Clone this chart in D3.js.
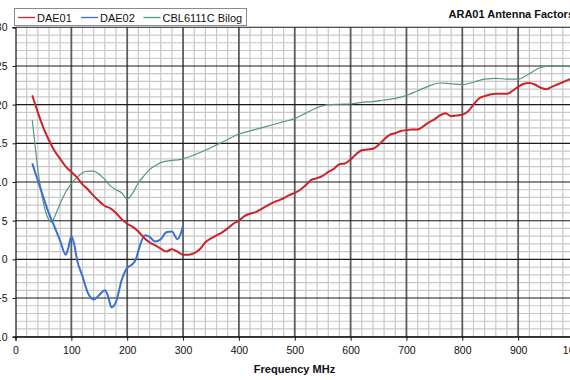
<!DOCTYPE html>
<html><head><meta charset="utf-8">
<script src="https://cdn.jsdelivr.net/npm/d3@7"></script>
<style>html,body{margin:0;padding:0;background:#fff;overflow:hidden}svg{display:block}text{font-family:Arial,"Liberation Sans",sans-serif}</style>
</head><body>
<svg id="c" width="570" height="380"></svg>
<script>
const title = "ARA01 Antenna Factors";
const xTitle = "Frequency MHz";
const seriesNames = ["DAE01", "DAE02", "CBL6111C Bilog"];
const seriesColors = ["#cc2228", "#3b6fd1", "#55997e"];
const xTicks = [0,100,200,300,400,500,600,700,800,900,1000];
const yTicks = [-10,-5,0,5,10,15,20,25,30];

const freqDAE01 = [30,40,50,60,70,80,90,100,110,120,130,140,150,160,170,180,190,200,210,220,230,240,250,260,270,280,290,300,310,320,330,340,350,360,370,380,390,400,410,420,430,440,450,460,470,480,490,500,510,520,530,540,550,560,570,580,590,600,610,620,630,640,650,660,670,680,690,700,710,720,730,740,750,760,770,780,790,800,810,820,830,840,850,860,870,880,890,900,910,920,930,940,950,960,970,980,990,1000];
const valDAE01 = [21.2,19.0,17.0,15.4,14.0,13.0,12.0,11.3,10.6,9.7,9.0,8.2,7.5,6.9,6.6,6.0,5.2,4.6,4.2,3.6,2.8,2.2,1.8,1.4,1.0,1.3,1.0,0.6,0.6,0.8,1.3,2.2,2.7,3.1,3.5,4.0,4.6,5.0,5.6,5.9,6.1,6.5,6.9,7.3,7.6,7.9,8.3,8.6,9.0,9.6,10.3,10.5,10.8,11.3,11.7,12.3,12.4,12.9,13.6,14.1,14.2,14.3,14.8,15.5,16.1,16.3,16.6,16.7,16.8,16.8,17.2,17.7,18.1,18.6,18.9,18.5,18.6,18.7,19.1,20.0,20.8,21.1,21.3,21.4,21.4,21.4,21.8,22.3,22.7,22.8,22.6,22.2,22.0,22.3,22.6,22.9,23.2,23.4];

const freqDAE02 = [30,40,50,60,70,80,90,95,100,105,110,120,130,140,150,160,165,172,180,190,200,210,216,222,232,240,250,260,270,280,290,300];
const valDAE02 = [12.4,10.2,8.0,5.9,4.2,2.4,0.6,1.6,3.0,2.0,0.0,-2.2,-4.4,-5.2,-4.6,-4.0,-4.6,-6.2,-5.5,-2.7,-1.1,-0.6,0.1,1.6,3.1,2.9,2.3,2.6,3.5,3.6,2.6,4.3];

const freqCBL = [30,35,40,45,50,55,60,65,70,80,90,100,110,120,130,140,150,160,170,180,190,200,210,220,230,240,250,260,270,280,290,300,320,340,360,380,400,420,440,460,480,500,520,540,560,580,600,620,640,660,680,700,720,740,760,780,800,820,840,860,880,900,920,940,960,980,1000];
const valCBL = [18.0,14.8,11.6,9.2,7.3,5.9,5.1,4.8,5.5,7.2,8.7,9.8,10.6,11.2,11.4,11.4,11.0,10.3,9.5,9.0,8.6,7.8,8.6,9.9,10.8,11.6,12.1,12.5,12.7,12.8,12.85,13.0,13.5,14.1,14.8,15.5,16.2,16.6,17.0,17.4,17.8,18.2,18.9,19.6,20.0,20.05,20.1,20.3,20.4,20.6,20.8,21.2,21.8,22.4,22.8,22.7,22.6,22.9,23.3,23.4,23.3,23.3,24.0,24.8,25.0,25.0,24.8];

const svg = d3.select("#c");
const x = d3.scaleLinear().domain([0,1000]).range([15.5,574]);
const y = d3.scaleLinear().domain([-10,30]).range([336.7,27.3]);

// minor grid
const g = svg.append("g");
g.selectAll("line.vmin").data(d3.range(0,1001,20).filter(v=>v%100!==0)).join("line")
  .attr("x1",d=>x(d)).attr("x2",d=>x(d)).attr("y1",y(30)).attr("y2",y(-10))
  .attr("stroke","#c8c8c8").attr("stroke-width",1.2);
g.selectAll("line.hmin").data(d3.range(-10,31,1).filter(v=>v%5!==0)).join("line")
  .attr("x1",x(0)).attr("x2",x(1000)).attr("y1",d=>y(d)).attr("y2",d=>y(d))
  .attr("stroke","#c8c8c8").attr("stroke-width",1.2);
// major grid
g.selectAll("line.vmaj").data(xTicks.filter(v=>v>0)).join("line")
  .attr("x1",d=>x(d)).attr("x2",d=>x(d)).attr("y1",y(30)).attr("y2",y(-10))
  .attr("stroke","#5c5c5c").attr("stroke-width",1.8);
g.selectAll("line.hmaj").data(yTicks).join("line")
  .attr("x1",x(0)).attr("x2",x(1000)).attr("y1",d=>y(d)).attr("y2",d=>y(d))
  .attr("stroke","#1a1a1a").attr("stroke-width",1.1);

// axes
const xa = svg.append("g").attr("transform",`translate(0,${y(-10)})`)
  .call(d3.axisBottom(x).tickValues(xTicks).tickSize(4).tickPadding(6).tickFormat(d3.format("d")));
const ya = svg.append("g").attr("transform",`translate(${x(0)},0)`)
  .call(d3.axisLeft(y).tickValues(yTicks).tickSize(3).tickPadding(5).tickFormat(d3.format("d")));
[xa,ya].forEach(a=>{
  a.select(".domain").attr("stroke","#111").attr("stroke-width",1.2);
  a.selectAll(".tick line").attr("stroke","#111");
  a.selectAll("text").attr("font-size","10.5px").attr("fill","#111").attr("font-family","Arial, 'Liberation Sans', sans-serif");
});

// lines
const line = d3.line().x(d=>x(d[0])).y(d=>y(d[1])).curve(d3.curveMonotoneX);
const data = [
  {f:freqDAE01, v:valDAE01, c:seriesColors[0], w:2},
  {f:freqDAE02, v:valDAE02, c:seriesColors[1], w:2},
  {f:freqCBL, v:valCBL, c:seriesColors[2], w:1.2}
];
[data[2], data[1], data[0]].forEach(s=>{
  svg.append("path").datum(s.f.map((f,i)=>[f,s.v[i]]))
    .attr("d",line).attr("fill","none").attr("stroke",s.c).attr("stroke-width",s.w)
    .attr("stroke-linejoin","round");
});

// legend
const lg = svg.append("g");
lg.append("rect").attr("x",14.5).attr("y",8.5).attr("width",232).attr("height",17)
  .attr("fill","#fff").attr("stroke","#8a8a8a");
const lx = [18,81,143.5];
seriesNames.forEach((n,i)=>{
  lg.append("line").attr("x1",lx[i]).attr("x2",lx[i]+17).attr("y1",17.5).attr("y2",17.5)
    .attr("stroke",seriesColors[i]).attr("stroke-width",1.3);
  lg.append("text").attr("x",lx[i]+19).attr("y",21.5).attr("font-size","11px").attr("fill","#111").text(n);
});

svg.append("text").attr("x",448.5).attr("y",17.5).attr("font-size","11px").attr("font-weight","bold").attr("fill","#111").text(title);
svg.append("text").attr("x",294.5).attr("y",373).attr("text-anchor","middle").attr("font-size","11px").attr("font-weight","bold").attr("fill","#111").text(xTitle);
</script>
</body></html>
